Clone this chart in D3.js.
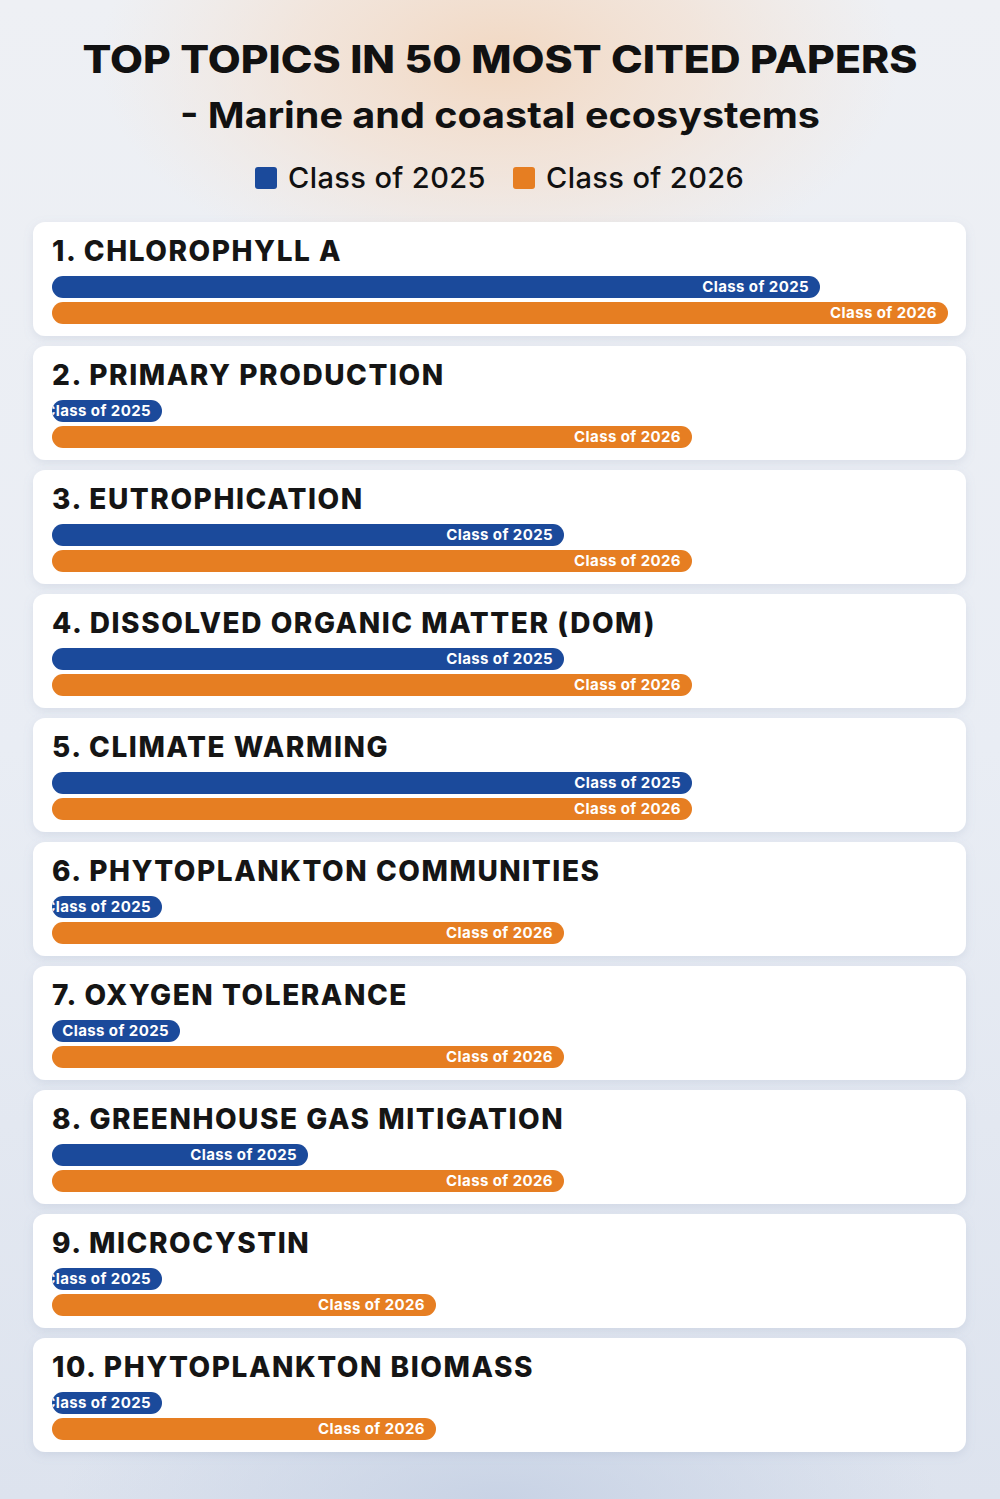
<!DOCTYPE html>
<html>
<head>
<meta charset="utf-8">
<script src="https://cdn.jsdelivr.net/npm/d3@7"></script>
<style>
  body { margin: 0; padding: 0; }
  svg { display: block; }
</style>
</head>
<body>
<div id="chart"></div>
<script>
// data
const topics = [
    '1. CHLOROPHYLL A',
    '2. PRIMARY PRODUCTION',
    '3. EUTROPHICATION',
    '4. DISSOLVED ORGANIC MATTER (DOM)',
    '5. CLIMATE WARMING',
    '6. PHYTOPLANKTON COMMUNITIES',
    '7. OXYGEN TOLERANCE',
    '8. GREENHOUSE GAS MITIGATION',
    '9. MICROCYSTIN',
    '10. PHYTOPLANKTON BIOMASS'
];
const class2025 = [6, 0, 4, 4, 5, 0, 1, 2, 0, 0];
const class2026 = [7, 5, 5, 5, 5, 4, 4, 4, 3, 3];
const seriesNames = ['Class of 2025', 'Class of 2026'];
const seriesColors = ['#1b4a9b', '#e67e22'];

const width = 1000, height = 1499;
const font = "Inter, 'Open Sans', sans-serif";

const svg = d3.select('#chart')
    .append('svg')
        .attr('width', width)
        .attr('height', height);

const defs = svg.append('defs');

// background
let bgGrad = defs.append('linearGradient')
    .attr('id', 'bg').attr('x1', 0).attr('y1', 0).attr('x2', 0).attr('y2', 1);
bgGrad.append('stop').attr('offset', '0%').attr('stop-color', '#eef0f4');
bgGrad.append('stop').attr('offset', '50%').attr('stop-color', '#e9edf4');
bgGrad.append('stop').attr('offset', '100%').attr('stop-color', '#dde3ee');

// glow gradients (centred on their ellipse)
let warm = defs.append('radialGradient')
    .attr('id', 'warm').attr('cx', 0.5).attr('cy', 0.5).attr('r', 0.5);
warm.append('stop').attr('offset', '0%').attr('stop-color', '#f2d8c2').attr('stop-opacity', 1);
warm.append('stop').attr('offset', '50%').attr('stop-color', '#f3e0d1').attr('stop-opacity', 0.7);
warm.append('stop').attr('offset', '100%').attr('stop-color', '#f3e4d8').attr('stop-opacity', 0);

let cool = defs.append('radialGradient')
    .attr('id', 'cool').attr('cx', 0.5).attr('cy', 0.5).attr('r', 0.5);
cool.append('stop').attr('offset', '0%').attr('stop-color', '#c6d1e4').attr('stop-opacity', 0.9);
cool.append('stop').attr('offset', '100%').attr('stop-color', '#c6d1e4').attr('stop-opacity', 0);

svg.append('rect').attr('width', width).attr('height', height).attr('fill', 'url(#bg)');
svg.append('ellipse').attr('cx', 500).attr('cy', 60).attr('rx', 400).attr('ry', 230).attr('fill', 'url(#warm)');
svg.append('ellipse').attr('cx', 500).attr('cy', 1499).attr('rx', 440).attr('ry', 140).attr('fill', 'url(#cool)');

let shadow = defs.append('filter').attr('id', 'shadow')
    .attr('x', '-5%').attr('y', '-20%').attr('width', '110%').attr('height', '150%');
shadow.append('feDropShadow')
    .attr('dx', 0).attr('dy', 3).attr('stdDeviation', 5)
    .attr('flood-color', '#8090b0').attr('flood-opacity', 0.18);

// titles
svg.append('text')
    .attr('x', 500).attr('y', 73)
    .attr('text-anchor', 'middle')
    .attr('font-family', font).attr('font-weight', 800)
    .attr('font-size', '38px').attr('fill', '#111')
    .attr('textLength', 835).attr('lengthAdjust', 'spacingAndGlyphs')
    .text('TOP TOPICS IN 50 MOST CITED PAPERS');

svg.append('text')
    .attr('x', 500).attr('y', 128)
    .attr('text-anchor', 'middle')
    .attr('font-family', font).attr('font-weight', 700)
    .attr('font-size', '36px').attr('fill', '#111')
    .attr('textLength', 640).attr('lengthAdjust', 'spacingAndGlyphs')
    .text('- Marine and coastal ecosystems');

// legend
const legendX = [255, 513];
seriesNames.forEach((name, i) => {
    let g = svg.append('g').attr('transform', `translate(${legendX[i]},167)`);
    g.append('rect').attr('width', 22).attr('height', 22).attr('rx', 3)
        .attr('fill', seriesColors[i]);
    g.append('text').attr('x', 33).attr('y', 21)
        .attr('font-family', font).attr('font-weight', 500)
        .attr('font-size', '29px').attr('fill', '#111')
        .attr('letter-spacing', '0.4px')
        .text(name);
});

// scale
const xScale = d3.scaleLinear()
    .domain([0, d3.max(class2026)])
    .range([0, 896]);
const minBar = 110;
const barLeft = 52;
const barH = 22;

const rows = topics.map((t, i) => ({ topic: t, values: [class2025[i], class2026[i]] }));

const cardTop = 222, cardPitch = 124, cardH = 114;

const cards = svg.selectAll('g.card')
    .data(rows)
    .enter()
    .append('g')
        .attr('class', 'card')
        .attr('transform', (d, i) => `translate(0,${cardTop + i * cardPitch})`);

cards.append('rect')
    .attr('x', 33).attr('y', 0)
    .attr('width', 933).attr('height', cardH)
    .attr('rx', 12)
    .attr('fill', '#ffffff')
    .attr('filter', 'url(#shadow)');

cards.append('text')
    .attr('x', 52).attr('y', 39)
    .attr('font-family', font).attr('font-weight', 800)
    .attr('font-size', '28px').attr('fill', '#151515')
    .attr('letter-spacing', '1.55px')
    .text(d => d.topic);

rows.forEach((row, i) => {
    let card = d3.select(cards.nodes()[i]);
    row.values.forEach((v, j) => {
        let w = Math.max(xScale(v), minBar);
        let y = 54 + j * 26;
        let id = `clip-${i}-${j}`;
        defs.append('clipPath').attr('id', id)
            .append('rect')
                .attr('x', barLeft).attr('y', cardTop + i * cardPitch + y)
                .attr('width', w).attr('height', barH)
                .attr('rx', barH / 2);
        card.append('rect')
            .attr('x', barLeft).attr('y', y)
            .attr('width', w).attr('height', barH)
            .attr('rx', barH / 2)
            .attr('fill', seriesColors[j]);
        card.append('g')
            .attr('clip-path', `url(#${id})`)
            .attr('transform', `translate(0,${-(cardTop + i * cardPitch)})`)
            .append('text')
                .attr('x', barLeft + w - 11)
                .attr('y', cardTop + i * cardPitch + y + 16)
                .attr('text-anchor', 'end')
                .attr('font-family', font).attr('font-weight', 700)
                .attr('font-size', '15px').attr('fill', '#ffffff')
                .attr('letter-spacing', '0.4px')
                .text(seriesNames[j]);
    });
});
</script>
</body>
</html>
